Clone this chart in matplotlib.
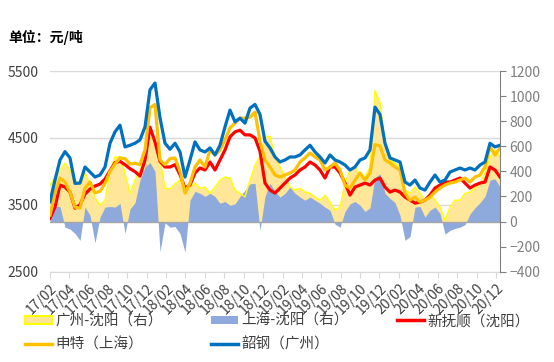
import matplotlib
matplotlib.use('Agg')
import matplotlib.pyplot as plt
import matplotlib.dates as mdates
from matplotlib.patches import Patch
from matplotlib.lines import Line2D
import pandas as pd

plt.rcParams['font.family'] = ['Noto Sans CJK SC', 'DejaVu Sans']

# ---------------- data ----------------
dates = pd.date_range('2017-02-01', '2020-12-13', periods=91)

shaogang_gz = [3545, 3870, 4170, 4295, 4200, 3820, 3825, 4065, 3990, 3915,
               3945, 4065, 4420, 4590, 4690, 4365, 4390, 4420, 4470, 4665,
               5220, 5320, 4800, 4420, 4330, 4420, 4290, 3915, 4170, 4440,
               4320, 4290, 4350, 4245, 4390, 4665, 4915, 4740, 4795, 4720,
               4945, 5000, 4850, 4450, 4350, 4215, 4140, 4170, 4215, 4215,
               4245, 4320, 4390, 4290, 4215, 4125, 4245, 4170, 4140, 4095,
               4020, 4065, 4170, 4200, 4320, 4960, 4850, 4420, 4200, 4170,
               4140, 3840, 3795, 3870, 3750, 3720, 3840, 3945, 3840, 3870,
               3990, 4020, 4050, 4020, 4050, 4020, 4095, 4140, 4420, 4365,
               4390]

shente_sh = [3345, 3675, 3900, 3840, 3690, 3465, 3450, 3750, 3840, 3680,
             3700, 3820, 4000, 4110, 4200, 4190, 4110, 4120, 4100, 4320,
             4950, 5000, 4170, 4100, 4190, 4200, 4000, 3675, 3825, 4065,
             4170, 4065, 4320, 4245, 4320, 4470, 4650, 4720, 4795, 4795,
             4810, 4885, 4450, 4170, 4065, 3945, 3915, 3945, 3975, 4020,
             4140, 4200, 4275, 4215, 4170, 4020, 4065, 4125, 4020, 3795,
             3750, 3870, 3975, 3870, 3975, 4400, 4380, 4170, 4125, 4065,
             4020, 3675, 3570, 3615, 3540, 3570, 3615, 3690, 3750, 3795,
             3825, 3840, 3870, 3900, 3840, 3915, 3945, 4065, 4365, 4245,
             4350]

xinfushun_sy = [3300, 3465, 3795, 3765, 3690, 3450, 3500, 3660, 3735, 3780,
                3810, 3885, 4010, 4130, 4150, 4100, 4040, 3995, 3930, 4170,
                4660, 4440, 4150, 4065, 4065, 4100, 3950, 3750, 3795, 3975,
                4050, 4020, 4140, 4020, 4170, 4320, 4515, 4590, 4615, 4545,
                4545, 4500, 4300, 3825, 3720, 3675, 3750, 3825, 3900, 3945,
                4020, 4065, 4140, 4095, 4020, 3900, 4065, 4065, 3975, 3825,
                3645, 3765, 3795, 3825, 3795, 3870, 3900, 3765, 3690, 3720,
                3690, 3615, 3570, 3525, 3540, 3570, 3645, 3750, 3795, 3840,
                3840, 3870, 3900, 3825, 3750, 3795, 3825, 3840, 4065, 4020,
                3915]

gz_minus_sy = [290, 355, 410, 465, 410, 330, 290, 385, 300, 190,
               130, 170, 400, 515, 515, 385, 225, 330, 410, 515,
               670, 650, 500, 265, 260, 300, 330, 275, 275, 305,
               265, 275, 225, 275, 330, 355, 345, 250, 225, 195,
               330, 450, 520, 670, 680, 515, 435, 355, 275, 250,
               265, 235, 225, 195, 170, 210, 155, 90, 115, 305,
               410, 435, 370, 355, 435, 1045, 950, 625, 490, 465,
               435, 250, 225, 275, 225, 170, 225, 170, 115, 10,
               115, 170, 170, 225, 235, 265, 305, 385, 515, 570,
               515]

sh_minus_sy = [70, 120, 120, -45, -60, -95, -150, 115, 50, -170,
               35, 115, 120, 115, 145, -95, 100, 150, 330, 435,
               470, 400, -240, -10, -45, -40, -95, -245, 170, 240,
               225, 200, 225, 200, 145, 160, 130, 140, 200, 250,
               300, 305, -70, 200, 305, 240, 195, 225, 275, 225,
               195, 170, 195, 170, 145, 115, 90, -20, -45, 80,
               140, 160, 130, 80, 110, 350, 380, 225, 185, 150,
               50, -150, -120, 115, 120, 35, 90, 115, 65, -100,
               -70, -55, -45, -25, 60, 110, 150, 200, 330, 340,
               275]

left_ticks = [2500, 3500, 4500, 5500]
right_ticks = [-400, -200, 0, 200, 400, 600, 800, 1000, 1200]

labels = ['广州-沈阳（右）', '上海-沈阳（右）', '新抚顺（沈阳）', '申特（上海）', '韶钢（广州）']

# ---------------- figure ----------------
fig = plt.figure(figsize=(5.54, 3.62), dpi=100)
ax = fig.add_axes([50/554, 90.3/362, 450/554, 200.7/362])
ax2 = ax.twinx()
ax3 = ax.twinx()

# base axis: left scale, grid, x axis
ax.set_ylim(2500, 5500)
ax.set_yticks(left_ticks)
ax.grid(axis='y', color='#D9D9D9', lw=1)
ax.set_axisbelow(True)
ax.tick_params(axis='y', length=0, pad=8, labelsize=10, labelcolor='#404040')
for s in ['left', 'top', 'right']:
    ax.spines[s].set_visible(False)
ax.spines['bottom'].set_color('#D9D9D9')
ax.set_xlim(dates[0], dates[-1])
ax.xaxis.set_major_locator(mdates.MonthLocator(bymonth=[2, 4, 6, 8, 10, 12]))
ax.xaxis.set_major_formatter(mdates.DateFormatter('%y/%m'))
ax.tick_params(axis='x', length=4, color='#D9D9D9', labelsize=10, labelcolor='#404040', pad=3)
plt.setp(ax.get_xticklabels(), rotation=45, ha='right', rotation_mode='anchor')

# areas: right scale
ax2.set_ylim(-400, 1200)
ax2.set_yticks(right_ticks)
ax2.tick_params(axis='y', length=4, color='#808080', labelcolor='#7F7F7F', labelsize=10, pad=3)
for s in ['left', 'top', 'bottom']:
    ax2.spines[s].set_visible(False)
ax2.spines['right'].set_color('#808080')
ax2.fill_between(dates, 0, gz_minus_sy, color='#FFE699', lw=0)
ax2.plot(dates, gz_minus_sy, color='#FFFF00', lw=1.0)
ax2.fill_between(dates, 0, sh_minus_sy, color='#8EA9DB', lw=0)
ax2.axhline(0, color='#A6A6A6', lw=1)

# lines: left scale
ax3.set_ylim(2500, 5500)
ax3.set_yticks([])
for s in ax3.spines.values():
    s.set_visible(False)
ax3.plot(dates, xinfushun_sy, color='#FF0000', lw=2.3)
ax3.plot(dates, shente_sh, color='#FFC000', lw=2.3)
ax3.plot(dates, shaogang_gz, color='#0070C0', lw=2.3)

fig.text(8/554, 1 - 37.5/362, '单位：元/吨', fontsize=10, fontweight='bold', va='center', color='#000000')

h_y = Patch(facecolor='#FFE699', edgecolor='#FFFF00', lw=1.5)
h_b = Patch(facecolor='#8EA9DB', edgecolor='none')
h_r = Line2D([], [], color='#FF0000', lw=2.5)
h_o = Line2D([], [], color='#FFC000', lw=2.5)
h_s = Line2D([], [], color='#0070C0', lw=2.5)
handles = [h_y, h_o, h_b, h_s, h_r]
lbls = [labels[0], labels[3], labels[1], labels[4], labels[2]]
fig.legend(handles, lbls, ncol=3, loc='upper left', bbox_to_anchor=(25/554, 1 - 314/362),
           frameon=False, fontsize=10.5, handlelength=1.85, handleheight=0.5,
           handletextpad=0.25, columnspacing=3.3, borderpad=0, borderaxespad=0,
           labelspacing=0.65, labelcolor='#404040')

fig.savefig('out.png', dpi=100)
